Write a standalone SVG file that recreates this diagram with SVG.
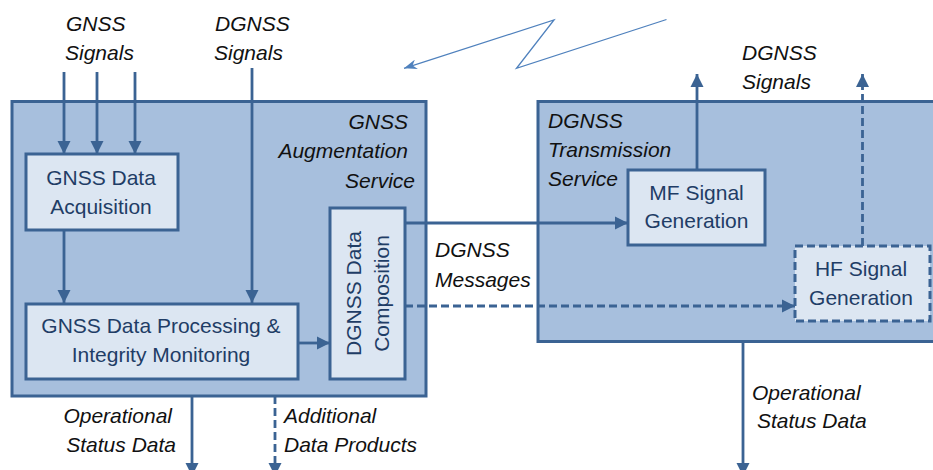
<svg xmlns="http://www.w3.org/2000/svg" width="933" height="470" viewBox="0 0 933 470">
<defs>
<style>
.big{fill:#a7bfdd;stroke:#3b6393;stroke-width:3}
.inner{fill:#dce6f2;stroke:#3b6393;stroke-width:3}
.dash{stroke-dasharray:8 4}
.ln{fill:none;stroke:#3b6393;stroke-width:2.8}
.bt{font-family:"Liberation Sans",Arial,sans-serif;font-size:21px;fill:#1f3d66;text-anchor:middle}
.lb{font-family:"Liberation Sans",Arial,sans-serif;font-size:21px;font-style:italic;fill:#111}
</style>
<marker id="ah" markerUnits="userSpaceOnUse" markerWidth="14" markerHeight="14" viewBox="0 0 14 14" refX="13" refY="7" orient="auto">
<path d="M0,0.5 L13,7 L0,13.5 z" fill="#3b6393"/>
</marker>
<marker id="lh" markerUnits="userSpaceOnUse" markerWidth="14" markerHeight="10" viewBox="0 0 14 10" refX="13" refY="5" orient="auto">
<path d="M0,0 L13,5 L0,10 L4,5 z" fill="#4f81bd"/>
</marker>
</defs>

<g id="gnss-augmentation-service">
<rect class="big" x="12" y="101.5" width="414" height="294.5"/>
<text class="lb" text-anchor="end" x="408" y="129">GNSS</text>
<text class="lb" text-anchor="end" x="408" y="158">Augmentation</text>
<text class="lb" text-anchor="end" x="415" y="188">Service</text>
</g>

<g id="dgnss-transmission-service">
<rect class="big" x="538" y="101.5" width="420" height="240"/>
<text class="lb" x="548" y="128">DGNSS</text>
<text class="lb" x="548" y="157">Transmission</text>
<text class="lb" x="548" y="186">Service</text>
</g>

<g id="gnss-data-acquisition">
<rect class="inner" x="26" y="154" width="152" height="76"/>
<text class="bt" x="101" y="185">GNSS Data</text>
<text class="bt" x="101" y="214">Acquisition</text>
</g>

<g id="gnss-data-processing">
<rect class="inner" x="26" y="304" width="272" height="75"/>
<text class="bt" x="161" y="333">GNSS Data Processing &amp;</text>
<text class="bt" x="161" y="362">Integrity Monitoring</text>
</g>

<g id="dgnss-data-composition">
<rect class="inner" x="330" y="208" width="75" height="171"/>
<text class="bt" transform="translate(361,293.5) rotate(-90)">DGNSS Data</text>
<text class="bt" transform="translate(389,293.5) rotate(-90)">Composition</text>
</g>

<g id="mf-signal-generation">
<rect class="inner" x="628" y="170" width="137" height="75"/>
<text class="bt" x="696.5" y="200">MF Signal</text>
<text class="bt" x="696.5" y="228">Generation</text>
</g>

<g id="hf-signal-generation">
<rect class="inner dash" x="795" y="246" width="135" height="75"/>
<text class="bt" x="861" y="276">HF Signal</text>
<text class="bt" x="861" y="305">Generation</text>
</g>

<g id="connectors">
<line class="ln" x1="64" y1="72" x2="64" y2="154" marker-end="url(#ah)"/>
<line class="ln" x1="97" y1="72" x2="97" y2="154" marker-end="url(#ah)"/>
<line class="ln" x1="135" y1="72" x2="135" y2="154" marker-end="url(#ah)"/>
<line class="ln" x1="252" y1="68" x2="252" y2="303" marker-end="url(#ah)"/>
<line class="ln" x1="64" y1="230" x2="64" y2="303" marker-end="url(#ah)"/>
<line class="ln" x1="298" y1="343" x2="330" y2="343" marker-end="url(#ah)"/>
<line class="ln" x1="405" y1="223" x2="628" y2="223" marker-end="url(#ah)"/>
<line class="ln dash" x1="405" y1="306" x2="795" y2="306" marker-end="url(#ah)"/>
<line class="ln" x1="697" y1="170" x2="697" y2="74" marker-end="url(#ah)"/>
<line class="ln dash" x1="862.5" y1="246" x2="862.5" y2="74" marker-end="url(#ah)"/>
<line class="ln" x1="192" y1="396" x2="192" y2="476" marker-end="url(#ah)"/>
<line class="ln dash" x1="275" y1="396" x2="275" y2="476" marker-end="url(#ah)"/>
<line class="ln" x1="743" y1="341.5" x2="743" y2="476" marker-end="url(#ah)"/>
<polyline points="666.5,19.5 516.5,68.3 554,20 404,68.3" fill="none" stroke="#4f81bd" stroke-width="1.3" marker-end="url(#lh)"/>
</g>

<g id="labels">
<text class="lb" x="66" y="31">GNSS</text>
<text class="lb" x="65" y="60">Signals</text>
<text class="lb" x="215" y="31">DGNSS</text>
<text class="lb" x="214" y="60">Signals</text>
<text class="lb" x="742" y="60">DGNSS</text>
<text class="lb" x="742" y="89">Signals</text>
<text class="lb" x="435" y="257">DGNSS</text>
<text class="lb" x="435" y="287">Messages</text>
<text class="lb" text-anchor="end" x="172" y="423">Operational</text>
<text class="lb" text-anchor="end" x="176" y="452">Status Data</text>
<text class="lb" x="284" y="423">Additional</text>
<text class="lb" x="284" y="452">Data Products</text>
<text class="lb" x="752" y="400">Operational</text>
<text class="lb" x="757" y="428">Status Data</text>
</g>
</svg>
